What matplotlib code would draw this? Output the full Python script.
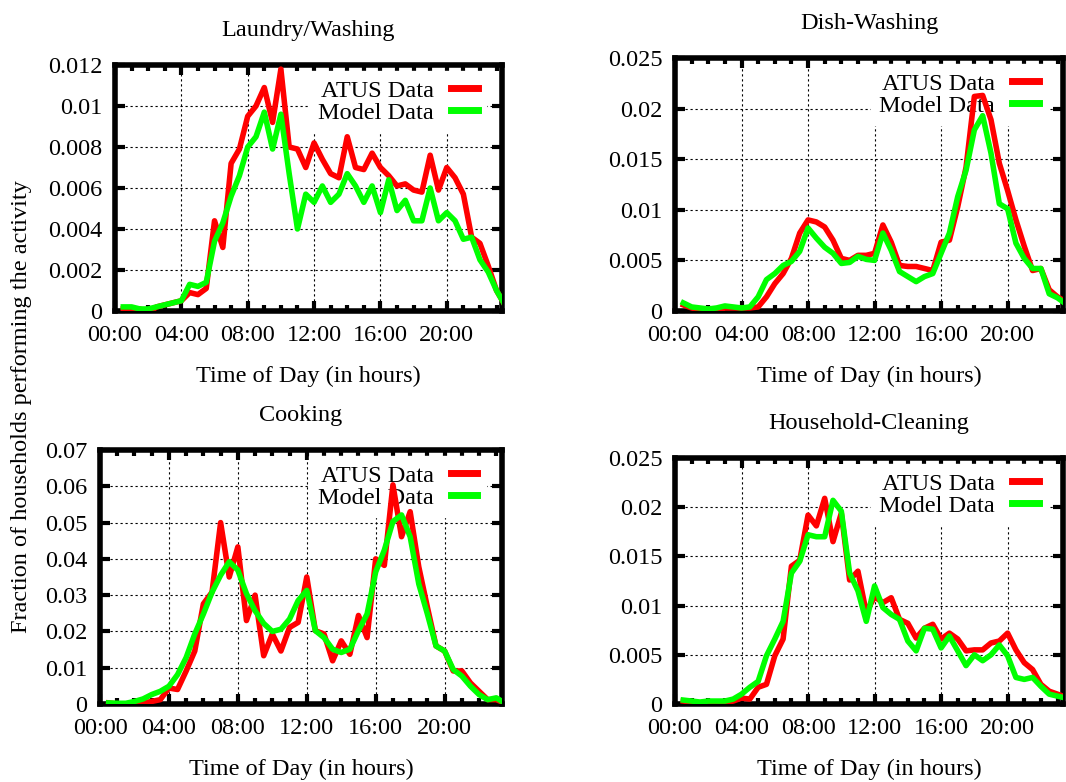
"""Four panels: ATUS vs model fraction of households doing an activity by time of day."""

import matplotlib

matplotlib.use("Agg")
import matplotlib.pyplot as plt
import numpy as np
from matplotlib.ticker import FuncFormatter, MultipleLocator

plt.rcParams["font.family"] = ["Liberation Serif", "DejaVu Serif"]
plt.rcParams["font.size"] = 17.5

# half-hour samples (hours)
hours = np.arange(0.5, 24.0, 0.5)

laundry_atus = [0.0001, 0.0001, 0.0001, -0.0001, 0.0002, 0.0003, 0.0004, 0.0005,
                0.0009, 0.0008, 0.0011, 0.0044, 0.0031, 0.0072, 0.0079, 0.0095,
                0.0100, 0.0109, 0.0092, 0.0118, 0.0080, 0.0079, 0.0070, 0.0082,
                0.0074, 0.0067, 0.0065, 0.0085, 0.0070, 0.0069, 0.0077, 0.0070,
                0.0066, 0.0061, 0.0062, 0.0059, 0.0058, 0.0076, 0.0059, 0.0070,
                0.0065, 0.0057, 0.0036, 0.0033, 0.0022, 0.0010, 0.0003]
laundry_model = [0.0002, 0.0002, 0.0001, 0.0001, 0.0002, 0.0003, 0.0004, 0.0005,
                 0.0013, 0.0012, 0.0014, 0.0034, 0.0043, 0.0056, 0.0066, 0.0080,
                 0.0085, 0.0097, 0.0079, 0.0096, 0.0067, 0.0040, 0.0057, 0.0053,
                 0.0061, 0.0053, 0.0057, 0.0067, 0.0061, 0.0053, 0.0061, 0.0048,
                 0.0064, 0.0049, 0.0054, 0.0044, 0.0044, 0.0060, 0.0044, 0.0048,
                 0.0044, 0.0035, 0.0036, 0.0025, 0.0019, 0.0010, 0.0003]

dish_atus = [0.0006, 0.0003, 0.0001, 0.0000, 0.0000, 0.0003, 0.0003, 0.0003,
             0.0003, 0.0004, 0.0014, 0.0027, 0.0037, 0.0052, 0.0077, 0.0090,
             0.0088, 0.0083, 0.0070, 0.0052, 0.0050, 0.0055, 0.0055, 0.0057,
             0.0085, 0.0068, 0.0045, 0.0044, 0.0044, 0.0042, 0.0040, 0.0068,
             0.0070, 0.0103, 0.0142, 0.0212, 0.0213, 0.0189, 0.0146, 0.0119,
             0.0090, 0.0064, 0.0040, 0.0042, 0.0021, 0.0014, 0.0009]
dish_model = [0.0008, 0.0004, 0.0003, 0.0002, 0.0003, 0.0005, 0.0004, 0.0003,
              0.0004, 0.0014, 0.0031, 0.0037, 0.0045, 0.0049, 0.0059, 0.0082,
              0.0072, 0.0063, 0.0057, 0.0047, 0.0048, 0.0054, 0.0051, 0.0050,
              0.0077, 0.0060, 0.0039, 0.0034, 0.0029, 0.0034, 0.0037, 0.0057,
              0.0077, 0.0113, 0.0139, 0.0179, 0.0193, 0.0156, 0.0106, 0.0101,
              0.0067, 0.0052, 0.0042, 0.0042, 0.0017, 0.0013, 0.0007]

cooking_atus = [0.0003, 0.0000, 0.0000, 0.0000, 0.0003, 0.0007, 0.0012, 0.0044,
                0.0040, 0.0091, 0.0146, 0.0276, 0.0308, 0.0500, 0.0350, 0.0433,
                0.0230, 0.0300, 0.0133, 0.0193, 0.0146, 0.0211, 0.0225, 0.0350,
                0.0202, 0.0193, 0.0119, 0.0174, 0.0137, 0.0244, 0.0183, 0.0400,
                0.0382, 0.0604, 0.0461, 0.0530, 0.0378, 0.0267, 0.0160, 0.0146,
                0.0091, 0.0091, 0.0058, 0.0035, 0.0012, 0.0012, 0.0002]
cooking_model = [0.0003, 0.0002, 0.0002, 0.0007, 0.0014, 0.0026, 0.0035, 0.0049,
                 0.0081, 0.0128, 0.0193, 0.0248, 0.0308, 0.0355, 0.0392, 0.0369,
                 0.0304, 0.0257, 0.0222, 0.0200, 0.0206, 0.0234, 0.0285, 0.0313,
                 0.0202, 0.0183, 0.0151, 0.0142, 0.0151, 0.0202, 0.0248, 0.0364,
                 0.0424, 0.0503, 0.0521, 0.0461, 0.0331, 0.0248, 0.0160, 0.0146,
                 0.0095, 0.0077, 0.0049, 0.0026, 0.0012, 0.0017, 0.0002]

cleaning_atus = [0.0003, 0.0002, 0.0001, 0.0001, 0.0001, 0.0001, 0.0003, 0.0006,
                 0.0005, 0.0017, 0.0020, 0.0049, 0.0066, 0.0140, 0.0146, 0.0192,
                 0.0181, 0.0209, 0.0165, 0.0194, 0.0126, 0.0135, 0.0093, 0.0109,
                 0.0103, 0.0108, 0.0086, 0.0082, 0.0067, 0.0077, 0.0081, 0.0066,
                 0.0072, 0.0066, 0.0054, 0.0055, 0.0055, 0.0062, 0.0064, 0.0072,
                 0.0055, 0.0042, 0.0035, 0.0020, 0.0013, 0.0010, 0.0007]
cleaning_model = [0.0004, 0.0003, 0.0002, 0.0003, 0.0003, 0.0003, 0.0005, 0.0010,
                  0.0017, 0.0023, 0.0049, 0.0066, 0.0084, 0.0133, 0.0145, 0.0172,
                  0.0170, 0.0170, 0.0207, 0.0196, 0.0133, 0.0115, 0.0084, 0.0120,
                  0.0098, 0.0091, 0.0086, 0.0064, 0.0054, 0.0077, 0.0076, 0.0057,
                  0.0069, 0.0054, 0.0039, 0.0050, 0.0044, 0.0050, 0.0060, 0.0049,
                  0.0027, 0.0025, 0.0027, 0.0018, 0.0010, 0.0008, 0.0006]

xtick_hours = [0, 4, 8, 12, 16, 20]
xtick_labels = ["00:00", "04:00", "08:00", "12:00", "16:00", "20:00"]

W, H = 1066, 782


def rect(left, right, top, bottom):
    return [left / W, 1 - bottom / H, (right - left) / W, (bottom - top) / H]


def panel(fig, box, title, atus, model, ymax, ystep):
    ax = fig.add_axes(rect(*box))
    ax.plot(hours, atus, color="#ff0000", lw=4, zorder=3, label="ATUS Data")
    ax.plot(hours, model, color="#00ff00", lw=4, zorder=3, label="Model Data")
    ax.set_xlim(0, 23.33)
    ax.set_ylim(0, ymax)
    ax.set_xticks(xtick_hours)
    ax.set_xticklabels(xtick_labels)
    ax.xaxis.set_minor_locator(MultipleLocator(1))
    ax.yaxis.set_major_locator(MultipleLocator(ystep))
    ax.yaxis.set_major_formatter(FuncFormatter(lambda v, p: f"{v:g}"))
    ax.set_axisbelow(True)
    ax.grid(True, color="black", lw=0.8, linestyle=(0, (2, 2.5)))
    ax.tick_params(which="major", direction="in", length=7, width=3,
                   top=True, right=True)
    ax.tick_params(which="minor", direction="in", length=4.5, width=3,
                   top=True, bottom=True, left=False, right=False)
    ax.tick_params(axis="y", pad=9)
    ax.tick_params(axis="x", pad=10)
    for sp in ax.spines.values():
        sp.set_linewidth(4)
    ax.set_title(title, pad=21, fontsize=17.5)
    ax.set_xlabel("Time of Day (in hours)", labelpad=14)
    leg = ax.legend(loc="upper right", bbox_to_anchor=(0.975, 1.0),
                    markerfirst=False, frameon=True,
                    framealpha=1, edgecolor="white", fancybox=False,
                    handlelength=1.1, handletextpad=0.7, labelspacing=0.0,
                    borderpad=0.35, borderaxespad=0.25)
    leg.set_zorder(2)
    for ln in leg.get_lines():
        ln.set_linewidth(5)
    return ax


fig = plt.figure(figsize=(W / 100, H / 100), dpi=100)

panel(fig, (115, 502, 65, 311), "Laundry/Washing",
      laundry_atus, laundry_model, 0.012, 0.002)
panel(fig, (675, 1063, 58, 311), "Dish-Washing",
      dish_atus, dish_model, 0.025, 0.005)
panel(fig, (100, 502, 450, 704), "Cooking",
      cooking_atus, cooking_model, 0.07, 0.01)
panel(fig, (675, 1063, 458, 704), "Household-Cleaning",
      cleaning_atus, cleaning_model, 0.025, 0.005)

fig.text(22 / W, 1 - 407 / H, "Fraction of households performing the activity",
         rotation=90, ha="center", va="center", fontsize=17.5)

fig.savefig("out.png", dpi=100)
